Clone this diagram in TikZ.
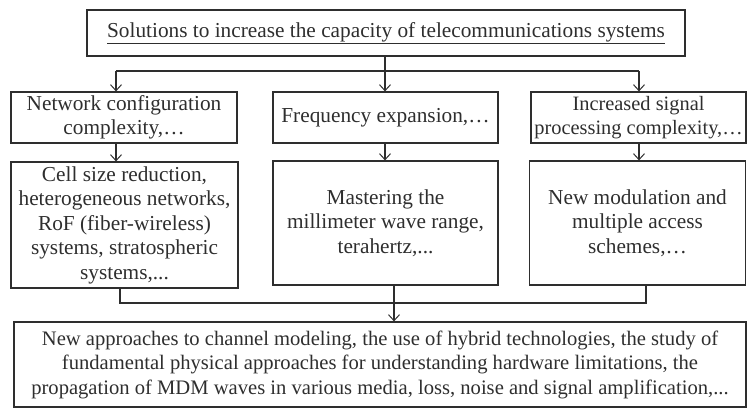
\documentclass[tikz,border=0pt]{standalone}
\usepackage{fontspec}
\setmainfont{Liberation Serif}
\usetikzlibrary{arrows.meta}
\definecolor{ink}{HTML}{2E2E2E}
\tikzset{
  box/.style={draw=ink, line width=1.2pt, align=center, inner sep=0pt, text=ink,
    font=\fontsize{21.3}{24.5}\selectfont},
  conn/.style={draw=ink, line width=1.2pt},
  arr/.style={conn, -{Straight Barb[length=6pt,width=11pt,line width=1pt]}}
}
\begin{document}
\begin{tikzpicture}[x=1pt,y=-1pt]
\useasboundingbox (0,0) rectangle (747,411);
\node[box, minimum width=598pt, minimum height=46pt] (top) at (386,33)
  {\underline{Solutions to increase the capacity of telecommunications systems}};
\node[box, minimum width=226pt, minimum height=51pt] (b1) at (124,117.5)
  {Network configuration\\complexity,\dots};
\node[box, minimum width=225pt, minimum height=51pt] (b2) at (385.5,117.5)
  {Frequency expansion,\dots};
\node[box, minimum width=215pt, minimum height=51pt, font=\fontsize{20.4}{24.5}\selectfont] (b3) at (638.5,117.5)
  {Increased signal\\processing complexity,\dots};
\node[box, minimum width=227pt, minimum height=126pt] (b4) at (124.5,225)
  {Cell size reduction,\\heterogeneous networks,\\RoF (fiber-wireless)\\systems, stratospheric\\systems,...};
\node[box, minimum width=225pt, minimum height=124pt] (b5) at (385.5,223)
  {Mastering the\\millimeter wave range,\\terahertz,...};
\node[box, minimum width=216pt, minimum height=124pt] (b6) at (637.5,223)
  {New modulation and\\multiple access\\schemes,\dots};
\node[box, minimum width=732pt, minimum height=85pt, font=\fontsize{20.6}{24.5}\selectfont] (bot) at (380,364.5)
  {New approaches to channel modeling, the use of hybrid technologies, the study of\\
   fundamental physical approaches for understanding hardware limitations, the\\
   propagation of MDM waves in various media, loss, noise and signal amplification,...};
% top distribution
\coordinate (s1) at (116,71);
\coordinate (s3) at (639,71);
\coordinate (sm) at (385,71);
\draw[arr] (top.south -| sm) -- (b2.north -| sm);
\draw[conn] (s1) -- (s3);
\draw[arr] (s1) -- (b1.north -| s1);
\draw[arr] (s3) -- (b3.north -| s3);
% second level
\draw[arr] (b1.south -| s1) -- (b4.north -| s1);
\draw[arr] (b2.south -| sm) -- (b5.north -| sm);
\draw[arr] (b3.south -| s3) -- (b6.north -| s3);
% merge
\coordinate (m1) at (120,303);
\coordinate (m2) at (394,303);
\coordinate (m3) at (646,303);
\draw[conn] (b4.south -| m1) -- (m1) -- (m3) -- (b6.south -| m3);
\draw[arr] (b5.south -| m2) -- (bot.north -| m2);
\end{tikzpicture}
\end{document}
